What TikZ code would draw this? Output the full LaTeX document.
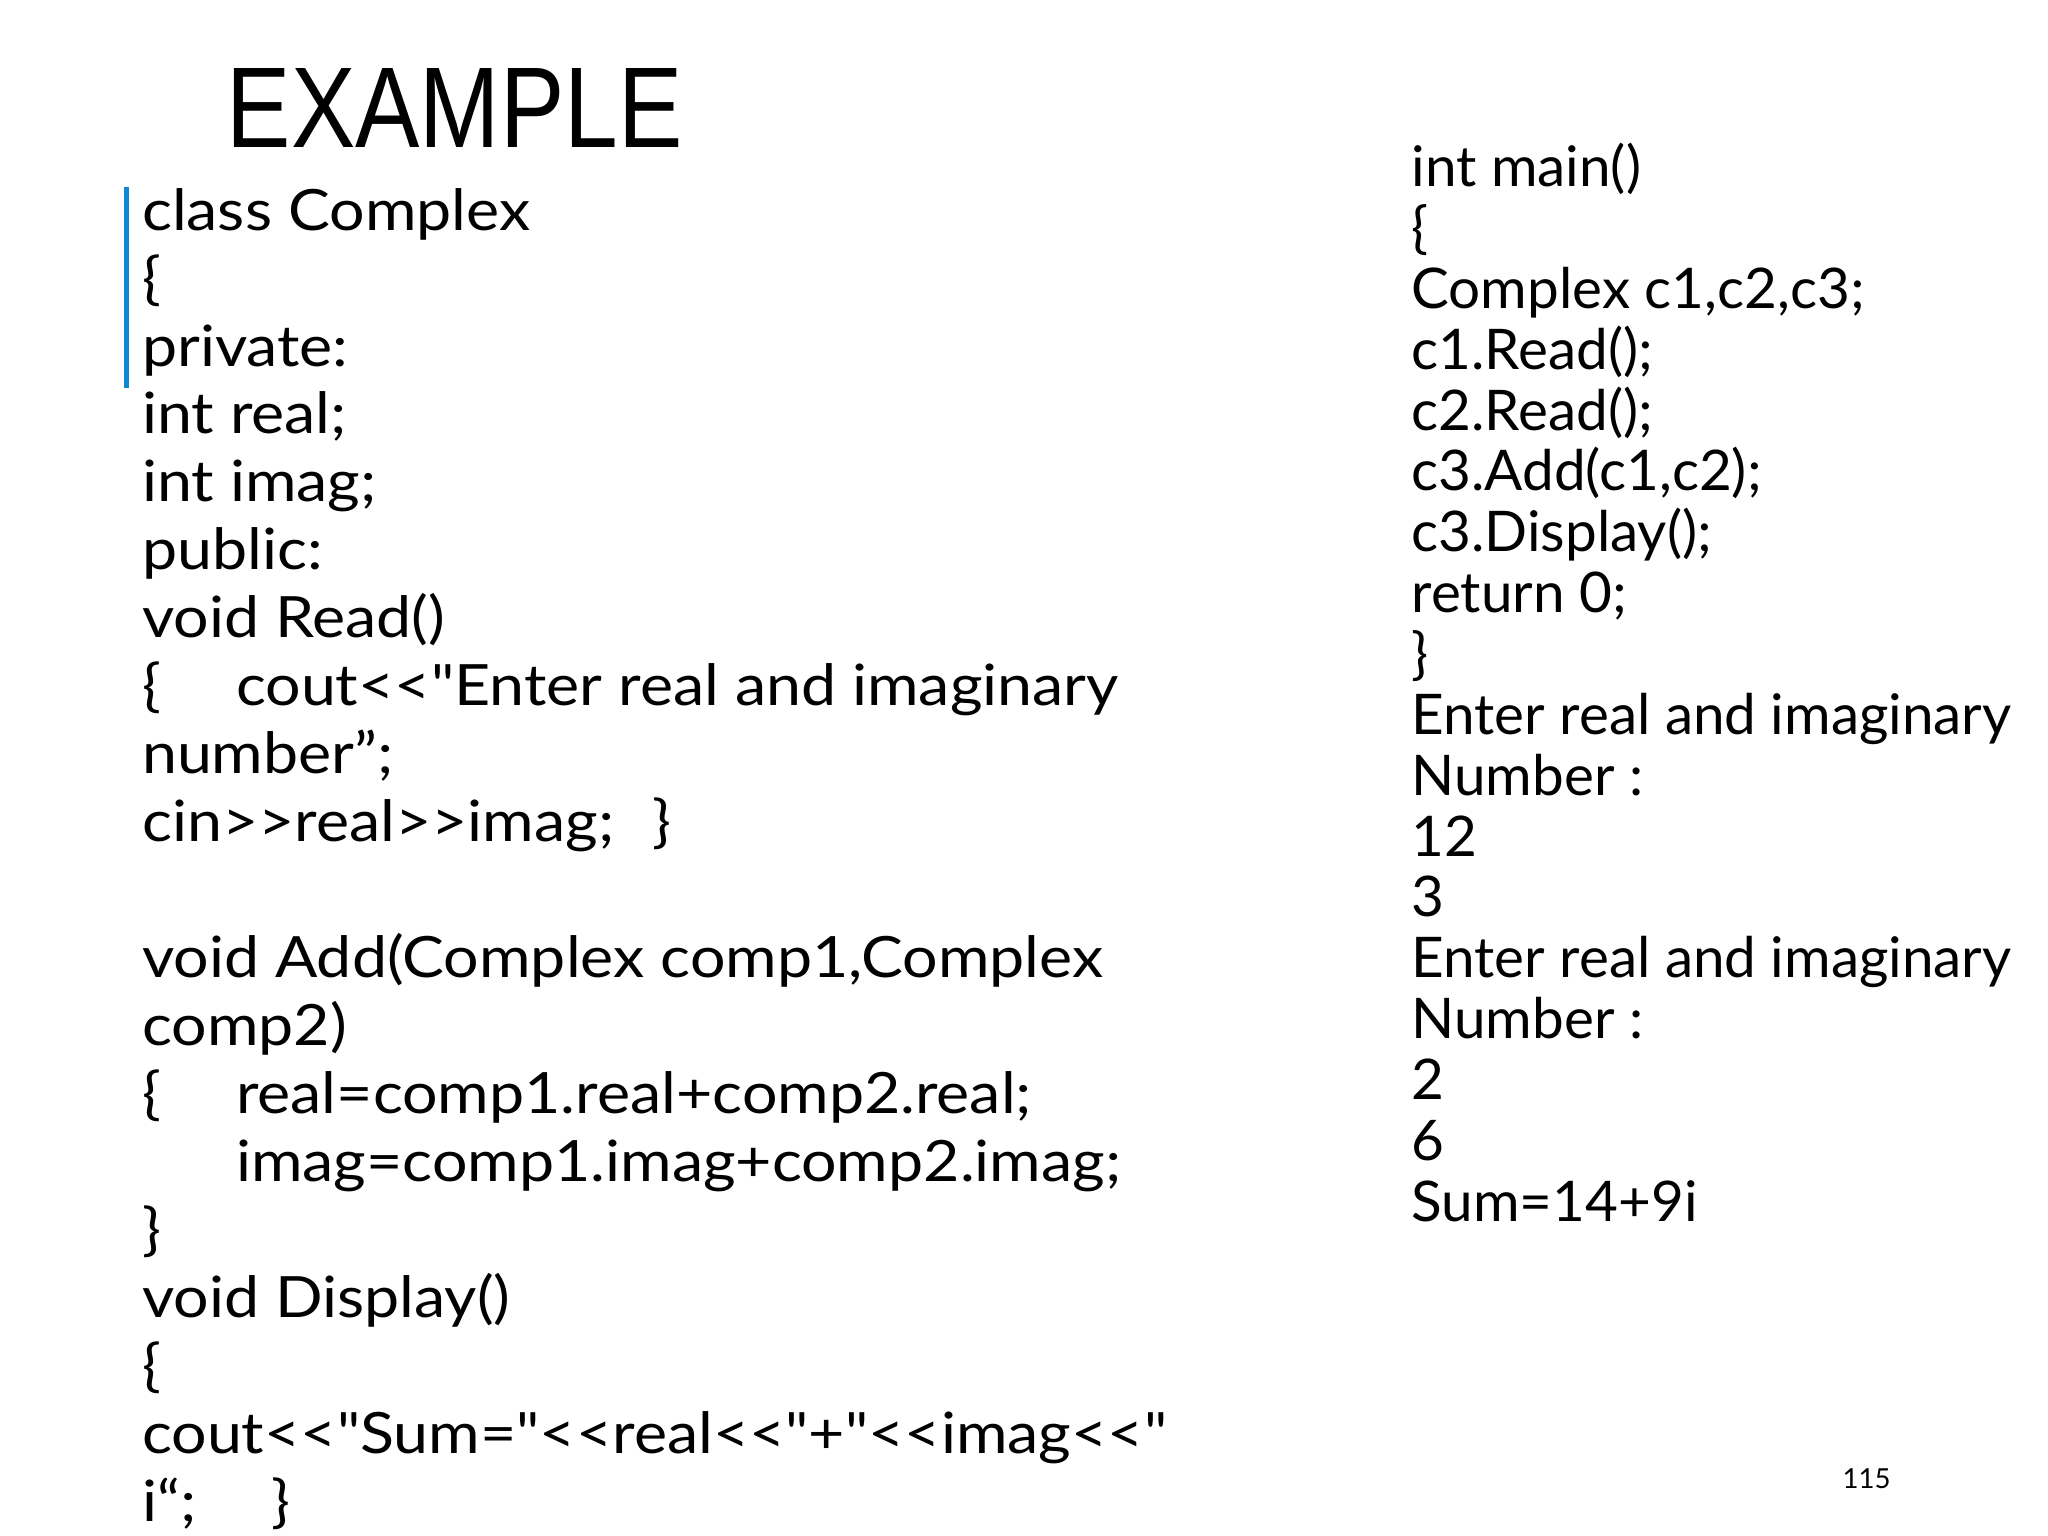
\documentclass[tikz,border=0pt]{standalone}
\usepackage{fontspec}
\setmainfont{Lato}[Ligatures=TeXOff]
\newfontfamily\titlefont{Liberation Sans}
\begin{document}
\begin{tikzpicture}[x=0.01cm,y=-0.01cm,
  code/.style={anchor=base west,align=left,inner sep=0pt,font=\fontsize{12.4pt}{14.8pt}\selectfont},
  rcode/.style={anchor=base west,align=left,inner sep=0pt,font=\fontsize{12.2pt}{13.25pt}\selectfont}]
\useasboundingbox (0,0) rectangle (1568,1176);
\node[anchor=base west,inner sep=0pt,font=\titlefont\fontsize{25pt}{25pt}\selectfont,xscale=0.84] (title) at (173,113) {EXAMPLE};
\draw[color=cyan!70!blue,line width=1.2pt] (97,143) coordinate (b1) -- (97,297) coordinate (b2);
\node[code,xscale=1.1] (left) at (108,1165) {class Complex\\
\{\\
private:\\
int real;\\
int imag;\\
public:\\
void Read()\\
\{\hspace*{1.2em}cout<<"Enter real and imaginary\\
number”;\\
cin>>real>>imag;\hspace*{0.6em}\}\\
\mbox{}\\
void Add(Complex comp1,Complex\\
comp2)\\
\{\hspace*{1.2em}real=comp1.real+comp2.real;\\
\hspace*{1.5em}imag=comp1.imag+comp2.imag;\\
\}\\
void Display()\\
\{\\
cout<<"Sum="<<real<<"+"<<imag<<"\\
i“;\hspace*{1.2em}\}};
\node[rcode,xscale=1.01] (right) at (1080,935) {int main()\\
\{\\
Complex c1,c2,c3;\\
c1.Read();\\
c2.Read();\\
c3.Add(c1,c2);\\
c3.Display();\\
return 0;\\
\}\\
Enter real and imaginary\\
Number :\\
12\\
3\\
Enter real and imaginary\\
Number :\\
2\\
6\\
Sum=14+9i};
\node[anchor=base west,inner sep=0pt,font=\fontsize{6pt}{6pt}\selectfont] (pg) at (1410,1140) {115};
\end{tikzpicture}
\end{document}
